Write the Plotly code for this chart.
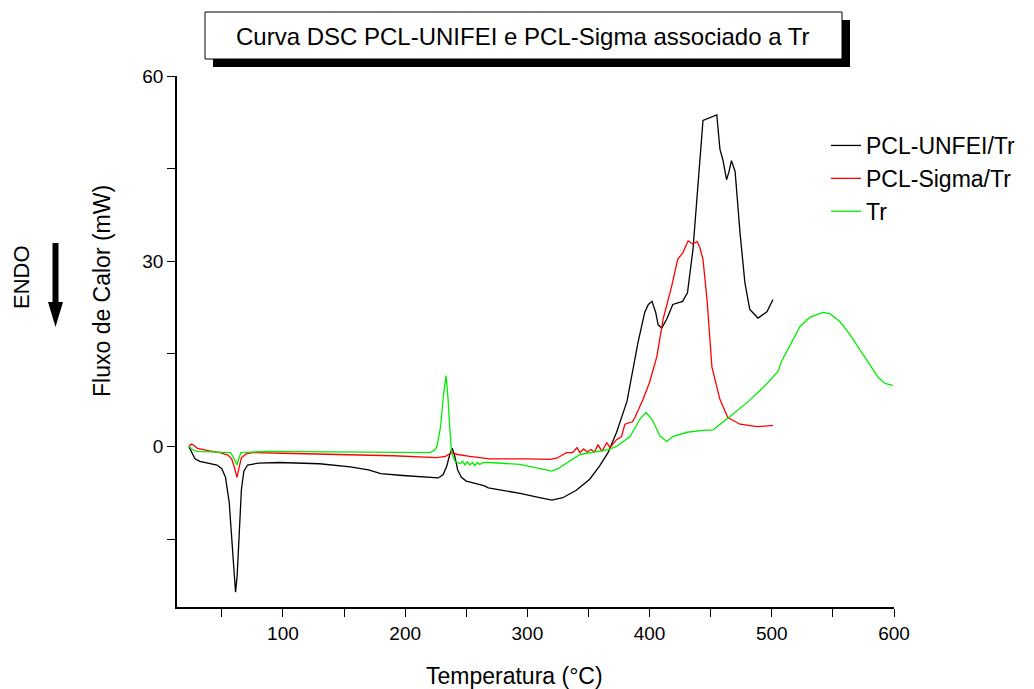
import plotly.graph_objects as go

# ---------------- data ----------------
t_unifei = [23, 25, 28, 32, 40, 46, 50, 53, 56, 58.5, 60, 61.2, 62.5, 64, 66, 68, 71, 80, 97, 130,
            155, 170, 180, 198, 215, 227, 231, 234, 236.5, 238.5, 240.5, 243, 246, 250, 258, 265, 268,
            294, 310, 320, 329, 340, 351, 359, 366, 373, 381.5, 390.5, 396, 399, 402, 405, 407, 410,
            414, 419, 427, 431, 435.5, 439.6, 443.7, 455, 457.6, 460, 463, 465, 467, 470, 474, 478,
            482, 488.7, 496, 501]
q_unifei = [0.0, -0.8, -2.0, -2.4, -2.7, -3.0, -3.6, -5.0, -9.0, -16.0, -21.5, -23.6, -21.0, -14.0,
            -7.0, -4.0, -3.0, -2.7, -2.6, -2.8, -3.3, -3.8, -4.4, -4.7, -5.0, -5.1, -4.6, -3.2, -1.3,
            -0.3, -1.5, -3.8, -5.0, -5.6, -6.0, -6.4, -6.7, -7.6, -8.3, -8.7, -8.3, -7.1, -5.3, -3.2,
            -1.0, 2.3, 7.3, 16.8, 21.7, 23.0, 23.5, 21.7, 19.7, 19.2, 20.6, 23.0, 23.5, 24.9, 31.9,
            42.7, 52.8, 53.7, 48.1, 46.4, 43.2, 44.5, 46.3, 44.5, 34.6, 26.5, 22.2, 20.8, 21.8, 23.8]

t_sigma = [23, 25, 27, 30, 40, 48.5, 55, 58, 60, 62.4, 64, 66, 70, 75, 100, 144, 190, 226, 233, 238,
           243, 253, 269, 300, 318.5, 324, 332, 337, 340.6, 343, 346, 349, 352, 355, 357.8, 361, 365,
           367.6, 373, 377, 379.8, 386, 388, 394.6, 400, 406, 411, 418, 423, 427.3, 431.5, 435.5,
           438.8, 441, 443.7, 447, 451, 457.6, 464, 474, 488, 501]
q_sigma = [0.0, 0.4, 0.2, -0.3, -0.7, -1.0, -1.4, -2.0, -3.2, -5.0, -3.5, -1.8, -1.2, -1.0, -1.1,
           -1.3, -1.5, -1.8, -1.6, -1.0, -1.3, -1.6, -2.0, -2.0, -2.1, -1.9, -1.0, -1.0, -0.2, -1.0,
           -0.4, -0.9, -0.5, -0.9, 0.3, -0.8, 0.6, -0.2, 1.1, 1.6, 3.6, 4.0, 4.7, 7.6, 10.4, 14.6,
           20.6, 25.9, 30.3, 31.4, 33.3, 32.8, 33.2, 32.3, 30.3, 23.8, 12.9, 7.6, 4.7, 3.6, 3.2, 3.4]

t_tr = [23, 26, 30, 57, 59, 61, 62.4, 63.8, 65.6, 87, 150, 200, 220, 224, 226, 229, 231, 233.4, 235,
        236.5, 238, 240.8, 245, 247, 249, 251, 253, 255, 257, 259, 261, 264, 269, 294, 310, 320, 325,
        343, 366, 373, 384, 392, 397, 402, 408.5, 414, 419, 430.6, 443.7, 452, 466, 479.7, 492.8,
        505, 508, 513, 523, 531, 542, 547.6, 555.8, 564, 572, 580, 587, 592.6, 599]
q_tr = [0.0, -0.5, -0.8, -1.0, -1.6, -2.6, -3.0, -2.0, -1.0, -0.8, -0.9, -1.0, -1.0, -0.6, 0.0, 3.2,
        7.6, 11.5, 8.0, 3.0, -1.0, -2.4, -2.8, -2.4, -3.0, -2.5, -3.0, -2.6, -3.1, -2.6, -2.9, -2.6,
        -2.6, -2.9, -3.6, -4.0, -3.6, -1.3, -0.5, 0.0, 1.6, 4.4, 5.5, 4.4, 1.7, 0.8, 1.6, 2.3, 2.6,
        2.7, 4.9, 7.1, 9.5, 12.1, 13.8, 15.7, 19.4, 20.9, 21.7, 21.5, 20.2, 18.1, 15.7, 13.3, 11.2,
        10.2, 9.9]

series_names = ["PCL-UNFEI/Tr", "PCL-Sigma/Tr", "Tr"]
series_colors = ["#000000", "#ff0000", "#00ee00"]

x_major = [100, 200, 300, 400, 500, 600]
x_minor = [50, 150, 250, 350, 450, 550]
y_major = [0, 30, 60]
y_minor = [-15, 15, 45]

title_text = "Curva DSC PCL-UNIFEI e PCL-Sigma associado a Tr"
x_title = "Temperatura (°C)"
y_title = "Fluxo de Calor (mW)"

# ---------------- figure ----------------
W, H = 1034, 689
L, R, T, B = 177, 894, 76, 607   # plot area in pixels
FONT = "Liberation Sans, Arial, sans-serif"


def px(xp):
    return (xp - L) / (R - L)


def py(yp):
    return (B - yp) / (B - T)


fig = go.Figure()
for t, q, name, col in zip([t_unifei, t_sigma, t_tr], [q_unifei, q_sigma, q_tr],
                           series_names, series_colors):
    fig.add_trace(go.Scatter(x=t, y=q, mode="lines", name=name,
                             line=dict(color=col, width=1.3)))

axis_common = dict(showline=True, linecolor="black", linewidth=1.6, mirror=False,
                   showgrid=False, zeroline=False, ticks="outside", ticklen=8,
                   tickwidth=1.4, tickcolor="black",
                   tickfont=dict(family=FONT, size=19, color="black"))

fig.update_xaxes(range=[13.3, 600], tickvals=x_major, ticktext=[str(v) for v in x_major],
                 minor=dict(tickvals=x_minor, ticks="outside", ticklen=8, tickwidth=1.4,
                            tickcolor="black", showgrid=False),
                 **axis_common)
fig.update_yaxes(range=[-26, 60], tickvals=y_major, ticktext=[str(v) for v in y_major],
                 minor=dict(tickvals=y_minor, ticks="outside", ticklen=8, tickwidth=1.4,
                            tickcolor="black", showgrid=False),
                 **axis_common)

shapes = [
    # title box shadow and box
    dict(type="rect", xref="paper", yref="paper", x0=px(213), x1=px(850), y0=py(67), y1=py(20),
         fillcolor="black", line=dict(width=0), layer="above"),
    dict(type="rect", xref="paper", yref="paper", x0=px(205), x1=px(842), y0=py(59), y1=py(12),
         fillcolor="white", line=dict(color="black", width=1), layer="above"),
    # ENDO arrow shaft and head
    dict(type="rect", xref="paper", yref="paper", x0=px(52.5), x1=px(58.5), y0=py(305), y1=py(243),
         fillcolor="black", line=dict(width=0)),
    dict(type="path", xref="paper", yref="paper",
         path=f"M {px(48)} {py(302)} L {px(63)} {py(302)} L {px(55.5)} {py(327)} Z",
         fillcolor="black", line=dict(width=0)),
]

annotations = [
    dict(text=title_text, xref="paper", yref="paper", x=px(523), y=py(36), showarrow=False,
         xanchor="center", yanchor="middle", font=dict(family=FONT, size=24, color="black")),
    dict(text=x_title, xref="paper", yref="paper", x=px(514), y=py(676), showarrow=False,
         xanchor="center", yanchor="middle", font=dict(family=FONT, size=23, color="black")),
    dict(text=y_title, xref="paper", yref="paper", x=px(102), y=py(291), showarrow=False,
         textangle=-90, xanchor="center", yanchor="middle",
         font=dict(family=FONT, size=23, color="black")),
    dict(text="ENDO", xref="paper", yref="paper", x=px(21), y=py(277), showarrow=False,
         textangle=-90, xanchor="center", yanchor="middle",
         font=dict(family=FONT, size=22, color="black")),
]

fig.update_layout(
    width=W, height=H,
    margin=dict(l=L, r=W - R, t=T, b=H - B),
    paper_bgcolor="white", plot_bgcolor="white",
    shapes=shapes, annotations=annotations,
    showlegend=True,
    legend=dict(x=px(826), y=py(124), xanchor="left", yanchor="top",
                bgcolor="rgba(0,0,0,0)", borderwidth=0, tracegroupgap=0,
                font=dict(family=FONT, size=23, color="black")),
    font=dict(family=FONT, color="black"),
)

fig.write_html("out.html", config={"displayModeBar": False},
               post_script="document.body.style.margin='0';document.body.style.overflow='hidden';")
